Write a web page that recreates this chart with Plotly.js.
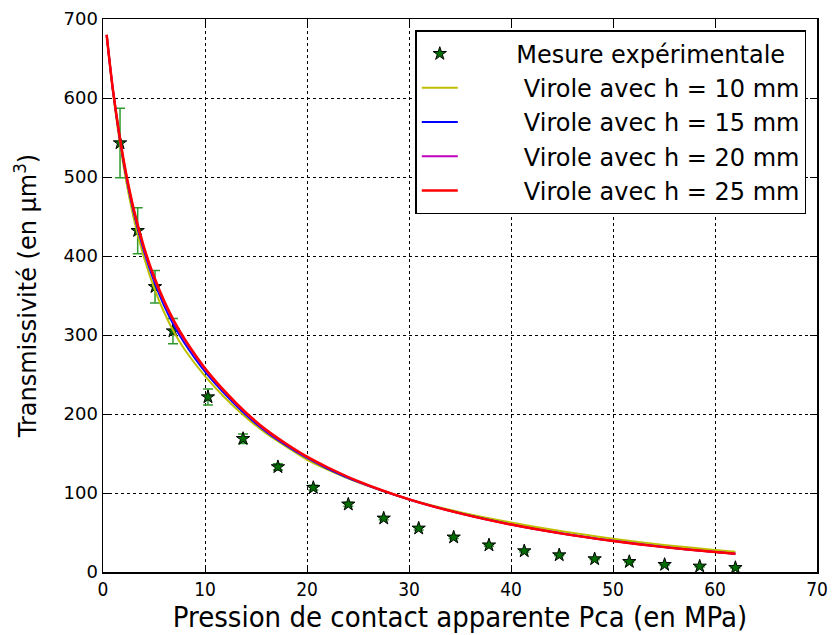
<!DOCTYPE html>
<html>
<head>
<meta charset="utf-8">
<script src="https://cdn.plot.ly/plotly-3.0.1.min.js"></script>
<style>html,body{margin:0;padding:0;background:#fff;}#chart{width:834px;height:635px;}</style>
</head>
<body>
<div id="chart"></div>
<script>
// Experimental measurements
const mesureX = [1.67, 3.40, 5.10, 6.86, 10.29, 13.73, 17.15, 20.62, 24.05, 27.52, 30.95, 34.38, 37.84, 41.30, 44.73, 48.20, 51.60, 55.06, 58.50, 62.00];
const mesureY = [543, 432, 361, 305, 221.5, 168.7, 133, 106.7, 85.7, 68, 55.3, 44, 34, 26.6, 21.5, 16.5, 13, 9.3, 7.2, 5.4];
const mesureErr = [44, 29, 20.5, 16, 10, 6, 4, 3, 2.5, 2, 2, 1.5, 1.5, 1.2, 1, 1, 1, 1, 0.8, 0.8];

// Model curves
const modelX = [0.36, 1, 2, 3, 4, 5, 6, 7, 8, 10, 12, 14, 16, 18, 20, 22, 25, 30, 35, 40, 45, 50, 55, 60, 62];
const h10 = [680, 605, 515, 448.5, 399, 360, 328.5, 302.7, 281.7, 248, 220, 196, 175.3, 158.4, 142, 129.7, 113.6, 92, 75.7, 62.7, 51.5, 42.2, 34.3, 27.8, 25.6];
const h15 = [680, 607, 520, 456, 407, 368.5, 337, 311, 289.5, 253.5, 224.5, 199, 177.7, 160, 144.3, 131, 114, 91.8, 74.3, 60.2, 48.8, 39.5, 31.7, 25.3, 23.1];
const h20 = [680, 608, 522, 458.5, 410, 372, 341, 315, 293, 256.5, 226.8, 201, 179, 161.2, 145.3, 132, 114.6, 92, 74.2, 60, 48.6, 39.3, 31.5, 25.2, 23];
const h25 = [680, 608, 523, 460, 412, 374, 343, 317, 295, 258, 228, 202, 180, 162, 146, 132.6, 115, 92, 74.2, 60, 48.6, 39.3, 31.5, 25.2, 23.0];

const names = ["Mesure expérimentale", "Virole avec h = 10 mm", "Virole avec h = 15 mm", "Virole avec h = 20 mm", "Virole avec h = 25 mm"];
const xTitle = "Pression de contact apparente Pca (en MPa)";
const yTitle = "Transmissivité (en µm<sup>3</sup>)";

const nb = n => '\u00a0'.repeat(n);
const lineTrace = (y, name, color, w) => ({
  x: modelX, y: y, name: nb(8) + name, type: 'scatter', mode: 'lines',
  line: {color: color, width: w, shape: 'spline', smoothing: 0.8}
});

const traces = [
  {
    x: mesureX, y: mesureY, name: nb(7) + names[0], type: 'scatter', mode: 'markers',
    marker: {symbol: 'star', size: 10, color: '#006e00', line: {color: '#000', width: 1}},
    error_y: {type: 'data', array: mesureErr, visible: true, color: '#2e9a2e', thickness: 1.5, width: 5}
  },
  lineTrace(h10, names[1], '#bfbf00', 2),
  lineTrace(h15, names[2], '#0000ff', 2),
  lineTrace(h20, names[3], '#bf00bf', 2),
  lineTrace(h25, names[4], '#ff0000', 2.5)
];

const condensed = 'DejaVu Sans Condensed, Liberation Sans Narrow, DejaVu Sans';
const axisCommon = {
  showline: true, linecolor: '#000', linewidth: 1.5, mirror: 'ticks',
  ticks: 'inside', ticklen: 7, tickcolor: '#000', tickwidth: 1,
  showgrid: true, gridcolor: '#000', gridwidth: 1, griddash: 'dot',
  zeroline: false
};

const layout = {
  width: 834, height: 635,
  margin: {l: 103, r: 17, t: 19, b: 63},
  paper_bgcolor: '#fff', plot_bgcolor: '#fff',
  font: {family: 'DejaVu Sans, sans-serif', color: '#000'},
  showlegend: true,
  legend: {
    x: 0.985, y: 0.98, xanchor: 'right', yanchor: 'top',
    bgcolor: '#fff', bordercolor: '#000', borderwidth: 1.5,
    font: {family: 'DejaVu Sans, sans-serif', size: 24, color: '#000'},
    itemwidth: 36, tracegroupgap: 0
  },
  xaxis: Object.assign({}, axisCommon, {
    range: [0, 70], dtick: 10, tick0: 0,
    tickfont: {family: condensed, size: 19},
    title: {text: xTitle, font: {family: condensed, size: 29}, standoff: 2}
  }),
  yaxis: Object.assign({}, axisCommon, {
    range: [0, 700], dtick: 100, tick0: 0,
    tickfont: {family: 'DejaVu Sans, sans-serif', size: 18},
    title: {text: yTitle, font: {family: 'DejaVu Sans, sans-serif', size: 24}, standoff: 20}
  })
};

Plotly.newPlot('chart', traces, layout, {displayModeBar: false, staticPlot: true});
</script>
</body>
</html>
